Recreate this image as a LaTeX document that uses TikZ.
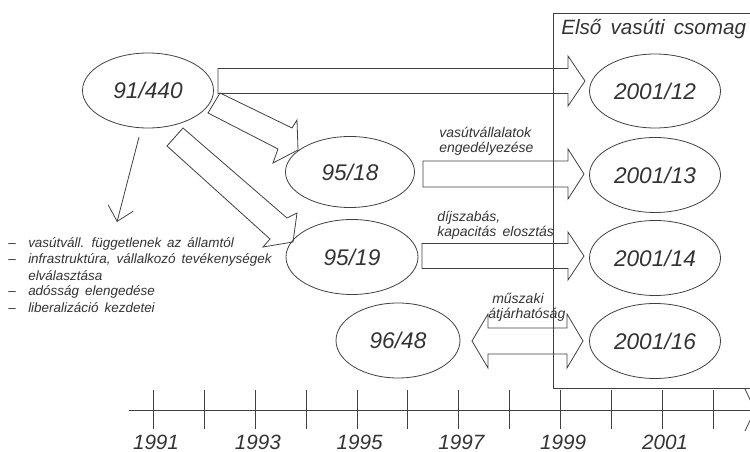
\documentclass[tikz,border=0pt]{standalone}
\usepackage{fontspec}
\setmainfont{Liberation Sans}
\newfontfamily\listfont{Liberation Sans}[WordSpace=1.6, Ligatures=TeX]
\usetikzlibrary{calc,arrows.meta,shapes.geometric}

% horizontal block arrow: #1 tail centre, #2 tip, #3 shaft half width,
% #4 head half width, #5 head length
\newcommand\hblock[5]{%
  \draw[blk] ($(#1)+(0,-#3)$) -- ($(#2)+(-#5,-#3)$) -- ($(#2)+(-#5,-#4)$) -- (#2)
    -- ($(#2)+(-#5,#4)$) -- ($(#2)+(-#5,#3)$) -- ($(#1)+(0,#3)$) -- cycle;}

\begin{document}
\begin{tikzpicture}[x=0.75pt,y=-0.75pt,
  ln/.style={draw=black!75, line width=0.6pt},
  blk/.style={ln, line join=miter},
  ell/.style={ln, ellipse, inner sep=0pt,
    font=\fontsize{17}{17}\selectfont\itshape, text=black!80},
  lbl/.style={font=\fontsize{10.5}{11.5}\selectfont\itshape, text=black!80,
    inner sep=0pt, align=left, anchor=west},
  listitem/.style={font=\listfont\fontsize{10.1}{12}\selectfont\itshape,
    text=black!80, inner sep=0pt, anchor=west},
  yearlbl/.style={font=\fontsize{15.5}{15.5}\selectfont\itshape, text=black!80,
    inner sep=0pt}
]
\useasboundingbox (0,0) rectangle (750,452);

% frame of the first railway package
\draw[ln] (553,13) rectangle (770,388);
\node[font=\fontsize{15.5}{15.5}\selectfont\itshape, text=black!80, inner sep=0pt,
  anchor=west] (pkg) at (561,29) {Első vasúti csomag};

% directives
\node[ell, minimum width={131*0.75pt}, minimum height={75*0.75pt}] (e91) at (148,90.5) {91/440};
\node[ell, minimum width={129*0.75pt}, minimum height={71*0.75pt}] (e18) at (350,172) {95/18};
\node[ell, minimum width={132*0.75pt}, minimum height={75*0.75pt}] (e19) at (352,257) {95/19};
\node[ell, minimum width={124*0.75pt}, minimum height={75*0.75pt}] (e48) at (398,340.5) {96/48};
\node[ell, minimum width={131*0.75pt}, minimum height={74*0.75pt}] (e12) at (655,91) {2001/12};
\node[ell, minimum width={131*0.75pt}, minimum height={75*0.75pt}] (e13) at (655,175) {2001/13};
\node[ell, minimum width={131*0.75pt}, minimum height={75*0.75pt}] (e14) at (655,258) {2001/14};
\node[ell, minimum width={131*0.75pt}, minimum height={75*0.75pt}] (e16) at (655,341) {2001/16};

% horizontal block arrows
\coordinate (a1s) at (218,81);  \coordinate (a1e) at (585,81);
\coordinate (a2s) at (423,174); \coordinate (a2e) at (584,174);
\coordinate (a3s) at (422,256); \coordinate (a3e) at (584,256);
\hblock{a1s}{a1e}{12.5}{25}{17}
\hblock{a2s}{a2e}{13}{25}{16}
\hblock{a3s}{a3e}{12.5}{24}{16}

% double block arrow 96/48 <-> 2001/16
\coordinate (dl) at (472,341); \coordinate (dr) at (583,341);
\draw[blk] (dl) -- ($(dl)+(16,-27)$) -- ($(dl)+(16,-13)$) -- ($(dr)+(-16,-13)$)
  -- ($(dr)+(-16,-27)$) -- (dr) -- ($(dr)+(-16,27)$) -- ($(dr)+(-16,13)$)
  -- ($(dl)+(16,13)$) -- ($(dl)+(16,27)$) -- cycle;

% diagonal block arrows from 91/440
\draw[blk] (220,93) -- (292,128) -- (297,120) -- (298,150) -- (273,163)
  -- (278,149) -- (208,113) -- cycle;
\draw[blk] (183,128) -- (287,218) -- (297,213) -- (293,242) -- (263,247)
  -- (270,239) -- (167,146) -- cycle;

% thin arrow to the list of effects
\coordinate (t1) at (139,137); \coordinate (t2) at (117,222);
\draw[ln, -{Straight Barb[length=10.4pt, width=19.4pt]}] (t1) -- (t2);

% list of effects
\node[listitem] (l1) at (8,244) {\makebox[15pt][l]{–}vasútváll. függetlenek az államtól};
\node[listitem] (l2) at (8,260) {\makebox[15pt][l]{–}infrastruktúra, vállalkozó tevékenységek};
\node[listitem] (l3) at (8,276) {\makebox[15pt][l]{}elválasztása};
\node[listitem] (l4) at (8,292) {\makebox[15pt][l]{–}adósság elengedése};
\node[listitem] (l5) at (8,308) {\makebox[15pt][l]{–}liberalizáció kezdetei};

% arrow labels
\node[lbl] (n13) at (439,141) {vasútvállalatok\\engedélyezése};
\node[lbl] (n14) at (437,225) {díjszabás,\\kapacitás elosztás};
\node[lbl] (n16a) at (492,298) {műszaki};
\node[lbl] (n16b) at (488,315) {átjárhatóság};

% time axis
\coordinate (ax0) at (129,410); \coordinate (ax1) at (755,410);
\draw[ln] (ax0) -- (ax1);
\draw[ln] (745,389) -- (ax1) -- (745,431);
\foreach \k in {0,...,11}{
  \draw[ln] (153.3+50.9*\k,390) -- (153.3+50.9*\k,429);
}
\foreach \j in {0,...,5}{
  \pgfmathtruncatemacro\yr{1991+2*\j}
  \node[yearlbl] (y\j) at (156+101.8*\j,442) {\yr};
}
\end{tikzpicture}
\end{document}
